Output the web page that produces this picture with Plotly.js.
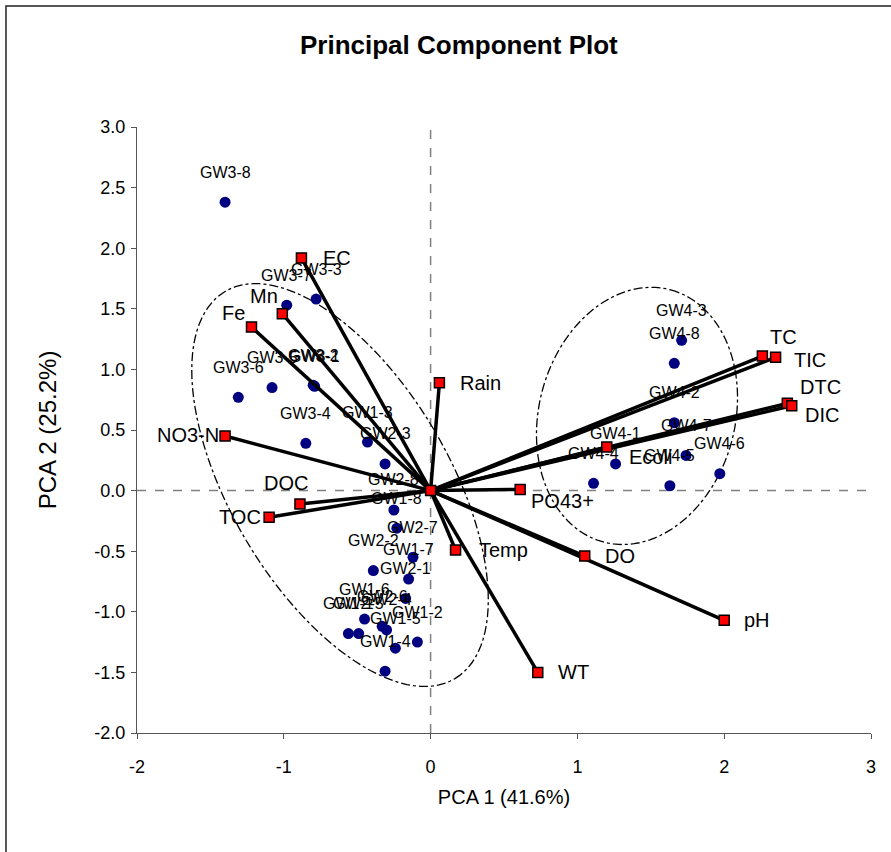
<!DOCTYPE html>
<html>
<head>
<meta charset="utf-8">
<script src="https://cdn.plot.ly/plotly-3.0.1.min.js"></script>
<style>html,body{margin:0;padding:0;background:#fff;}#chart{width:891px;height:852px;}</style>
</head>
<body>
<div id="chart"></div>
<script>
// ---- Variable loadings (red squares) ----
const varNames = ['EC','Mn','Fe','NO3-N','DOC','TOC','Rain','Temp','PO43+','DO','pH','WT','Ecoli','TC','TIC','DTC','DIC'];
const varX = [-0.88,-1.01,-1.22,-1.40,-0.89,-1.10,0.06,0.17,0.61,1.05,2.00,0.73,1.20,2.26,2.35,2.43,2.46];
const varY = [1.92,1.46,1.35,0.45,-0.11,-0.22,0.89,-0.49,0.01,-0.54,-1.07,-1.50,0.36,1.11,1.10,0.72,0.70];
const originX = [0];
const originY = [0];

// ---- Sample scores (navy dots) ----
const sampleNames = ['GW3-8','GW3-7','GW3-3','GW3-6','GW3-5','GW3-2','GW3-1','GW3-4',
  'GW1-3','GW2-3','GW2-8','GW1-8','GW2-7','GW2-2','GW1-7','GW2-1','GW1-6','GW2-6','GW2-4',
  'GW1-1','GW2-5','GW1-2','GW1-5','GW1-4',
  'GW4-3','GW4-8','GW4-2','GW4-7','GW4-1','GW4-6','GW4-4','GW4-5'];
const sampleX = [-1.40,-0.98,-0.78,-1.31,-1.08,-0.80,-0.79,-0.85,
  -0.43,-0.31,-0.25,-0.23,-0.12,-0.39,-0.15,-0.17,-0.45,-0.33,-0.30,
  -0.56,-0.49,-0.09,-0.24,-0.31,
  1.71,1.66,1.66,1.74,1.26,1.97,1.11,1.63];
const sampleY = [2.38,1.53,1.58,0.77,0.85,0.87,0.86,0.39,
  0.40,0.22,-0.16,-0.31,-0.55,-0.66,-0.73,-0.89,-1.06,-1.12,-1.15,
  -1.18,-1.18,-1.25,-1.30,-1.49,
  1.24,1.05,0.56,0.29,0.22,0.14,0.06,0.04];

// ---- Group ellipses (centre, semi-axis vectors) ----
const ellipseCenters = [[-0.617,0.046],[1.406,0.616]];
const ellipseMajor = [[0.783,-1.597],[0.230,1.040]];
const ellipseMinor = [[0.638,0.460],[0.645,-0.210]];

// ---- Tick labels ----
const xTickVals = [-2,-1,0,1,2,3];
const yTickVals = [-2,-1.5,-1,-0.5,0,0.5,1,1.5,2,2.5,3];

// ---- Label placement (style only) ----
const varLabelStyle = [
  {a:'left',dx:20,dy:0},{a:'right',dx:-2,dy:18},{a:'right',dx:-5,dy:14},{a:'right',dx:-4,dy:1},
  {a:'center',dx:-14,dy:21},{a:'right',dx:-6,dy:0},{a:'left',dx:19,dy:0},{a:'left',dx:21,dy:0},
  {a:'left',dx:9,dy:-12},{a:'left',dx:18,dy:0},{a:'left',dx:18,dy:0},{a:'left',dx:18,dy:0},
  {a:'left',dx:20,dy:-10},{a:'left',dx:6,dy:19},{a:'left',dx:16,dy:-3},{a:'left',dx:11,dy:16},{a:'left',dx:11,dy:-9}
];

const FONT = 'Liberation Sans, Arial, sans-serif';

// vector lines origin -> variable
const lx = [], ly = [];
varX.forEach((v,i)=>{ lx.push(originX[0], v, null); ly.push(originY[0], varY[i], null); });

const traces = [
  {x: sampleX, y: sampleY, mode:'markers', type:'scatter', hoverinfo:'text', text: sampleNames,
   marker:{color:'#000080', size:11}},
  {x: lx, y: ly, mode:'lines', type:'scatter', hoverinfo:'skip',
   line:{color:'#000000', width:3.5}},
  {x: varX, y: varY, mode:'markers', type:'scatter', text: varNames, hoverinfo:'text',
   marker:{symbol:'square', color:'#ff0000', size:10, line:{color:'#000000', width:1.5}}},
  {x: originX, y: originY, mode:'markers', type:'scatter', hoverinfo:'skip',
   marker:{symbol:'square', color:'#ff0000', size:10, line:{color:'#000000', width:1.5}}}
];

const annotations = [];
sampleNames.forEach((n,i)=>{
  annotations.push({x: sampleX[i], y: sampleY[i], xref:'x', yref:'y', text:n, showarrow:false,
    xanchor:'center', yanchor:'middle', yshift:30, font:{family:FONT, size:16, color:'#000'}});
});
varNames.forEach((n,i)=>{
  const s = varLabelStyle[i];
  annotations.push({x: varX[i], y: varY[i], xref:'x', yref:'y', text:n, showarrow:false,
    xanchor:s.a, yanchor:'middle', xshift:s.dx, yshift:s.dy, font:{family:FONT, size:20, color:'#000'}});
});

function ellipsePath(k){
  const c = ellipseCenters[k], M = ellipseMajor[k], m = ellipseMinor[k];
  let p = '';
  for(let j=0;j<=120;j++){
    const t = 2*Math.PI*j/120;
    const x = c[0] + Math.cos(t)*M[0] + Math.sin(t)*m[0];
    const y = c[1] + Math.cos(t)*M[1] + Math.sin(t)*m[1];
    p += (j===0?'M':'L') + x.toFixed(4) + ',' + y.toFixed(4);
  }
  return p + 'Z';
}

const shapes = [
  {type:'line', xref:'x', yref:'y', x0:-2, x1:3, y0:0, y1:0, layer:'below', line:{color:'#808080', width:1.5, dash:'dash'}},
  {type:'line', xref:'x', yref:'y', x0:0, x1:0, y0:-2, y1:3, layer:'below', line:{color:'#808080', width:1.5, dash:'dash'}},
  {type:'path', xref:'x', yref:'y', path: ellipsePath(0), layer:'below', line:{color:'#000', width:1.3, dash:'dashdot'}},
  {type:'path', xref:'x', yref:'y', path: ellipsePath(1), layer:'below', line:{color:'#000', width:1.3, dash:'dashdot'}},
  {type:'rect', xref:'paper', yref:'paper', x0:-0.1785, x1:1.2, y0:-0.4, y1:1.1997, layer:'below', line:{color:'#222', width:1.5}}
];

const layout = {
  width: 891, height: 852,
  margin: {l:137, r:20, t:127, b:119},
  paper_bgcolor:'#ffffff', plot_bgcolor:'#ffffff',
  showlegend:false,
  font:{family:FONT, color:'#000'},
  title:{text:'Principal Component Plot', font:{family:FONT, size:26, weight:'bold', color:'#000'},
    x:0.515, xref:'container', xanchor:'center', y:0.947, yref:'container', yanchor:'middle'},
  xaxis:{range:[-2,3], tickvals:xTickVals, ticktext:xTickVals.map(String), showgrid:false, zeroline:false,
    showline:true, linecolor:'#555', linewidth:1, ticks:'outside', ticklen:5, tickcolor:'#555',
    ticklabelstandoff:12, tickfont:{family:FONT, size:18, color:'#000'},
    title:{text:'PCA 1 (41.6%)', font:{family:FONT, size:20, color:'#000'}, standoff:14}},
  yaxis:{range:[-2,3], tickvals:yTickVals, ticktext:yTickVals.map(v=>v.toFixed(1)), showgrid:false, zeroline:false,
    showline:true, linecolor:'#555', linewidth:1, ticks:'outside', ticklen:5, tickcolor:'#555',
    ticklabelstandoff:2, tickfont:{family:FONT, size:18, color:'#000'},
    title:{text:'PCA 2 (25.2%)', font:{family:FONT, size:24, color:'#000'}, standoff:30}},
  shapes: shapes,
  annotations: annotations
};

Plotly.newPlot('chart', traces, layout, {displayModeBar:false, staticPlot:true});
</script>
</body>
</html>
